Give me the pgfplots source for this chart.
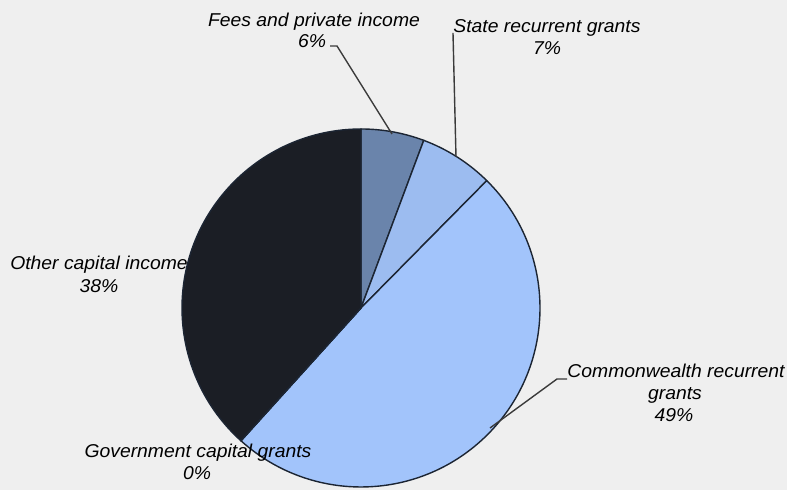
\documentclass[border=0pt]{standalone}
\usepackage{pgfplots}
\pgfplotsset{compat=1.18}
\usepackage{pgfplotstable}
\usepackage{fontspec}
\setmainfont{Liberation Sans}
\definecolor{bgc}{HTML}{EFEFEF}
\definecolor{cfees}{HTML}{6A84AB}
\definecolor{cstate}{HTML}{9CBCF0}
\definecolor{ccw}{HTML}{A2C4FB}
\definecolor{cgov}{HTML}{5B7BB0}
\definecolor{cother}{HTML}{1B1E25}
\definecolor{edgec}{HTML}{1C2533}
\definecolor{textc}{HTML}{3A3A3A}
\definecolor{linec}{HTML}{3A3A3A}
\newcommand{\lab}[1]{\scalebox{1.04}[1]{\fontsize{9.3pt}{11pt}\selectfont\itshape #1}}

\pgfplotstableread{
name value col
Fees 5.7 cfees
State 6.7 cstate
Commonwealth 49.3 ccw
Govcap 0.0 cgov
Other 38.3 cother
}\piedata

\begin{document}
\begin{tikzpicture}
\begin{axis}[
  x=0.5pt, y=0.5pt,
  xmin=0, xmax=787, ymin=0, ymax=490,
  hide axis, clip=false,
  every node/.append style={text=textc, inner sep=0pt},
]
\fill[bgc] (axis cs:0,0) rectangle (axis cs:787,490);
\coordinate (bl) at (axis cs:0,0);
\coordinate (tr) at (axis cs:787,490);
\def\cur{90}
\pgfplotsforeachungrouped \i in {0,...,4}{%
  \pgfplotstablegetelem{\i}{value}\of\piedata \let\val\pgfplotsretval
  \pgfplotstablegetelem{\i}{col}\of\piedata \let\col\pgfplotsretval
  \pgfmathsetmacro\nxt{\cur-3.6*\val}%
  \edef\doit{\noexpand\filldraw[fill=\col, draw=edgec, line width=0.7pt, line join=round]
    (axis cs:361,182) -- ++(\cur:89.5pt) arc[start angle=\cur, end angle=\nxt, radius=89.5pt] -- cycle;}%
  \doit
  \global\let\cur\nxt
}
% leader lines
\draw[linec, line width=0.7pt] (axis cs:330,444) -- (axis cs:337,444) -- (axis cs:392,356);
\draw[linec, line width=0.7pt] (axis cs:453,457) -- (axis cs:456,333);
\draw[linec, line width=0.7pt] (axis cs:567,111) -- (axis cs:557,111) -- (axis cs:490,62);
% labels
\node[anchor=base] at (axis cs:314,463) {\lab{Fees and private income}};
\node[anchor=base] at (axis cs:312,442) {\lab{6\%}};
\node[anchor=base] at (axis cs:547,457) {\lab{State recurrent grants}};
\node[anchor=base] at (axis cs:547,435) {\lab{7\%}};
\node[anchor=base] at (axis cs:99,220) {\lab{Other capital income}};
\node[anchor=base] at (axis cs:99,197) {\lab{38\%}};
\node[anchor=base] at (axis cs:198,32) {\lab{Government capital grants}};
\node[anchor=base] at (axis cs:197,10) {\lab{0\%}};
\node[anchor=base] at (axis cs:676,112) {\lab{Commonwealth recurrent}};
\node[anchor=base] at (axis cs:675,90) {\lab{grants}};
\node[anchor=base] at (axis cs:674,68) {\lab{49\%}};
\end{axis}
\pgfresetboundingbox
\useasboundingbox (bl) rectangle (tr);
\end{tikzpicture}
\end{document}
